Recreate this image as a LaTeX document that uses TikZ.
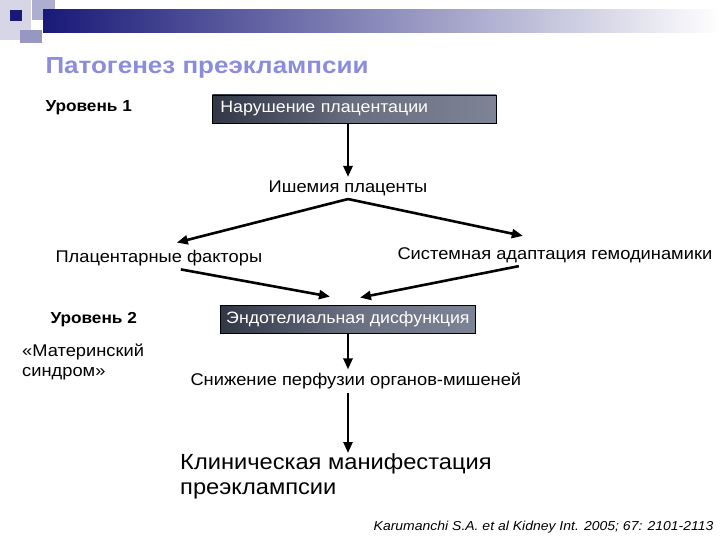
\documentclass[tikz,border=0pt]{standalone}
\usepackage{fontspec}
\setmainfont[FakeStretch=1.08]{Liberation Sans}
\newfontfamily\titlefont[FakeStretch=1.12]{Liberation Sans}
\usetikzlibrary{arrows.meta,calc}
\definecolor{navybar}{RGB}{25,25,120}
\definecolor{titlelav}{RGB}{140,140,222}
\definecolor{boxdark}{RGB}{50,55,70}
\definecolor{boxmid}{RGB}{105,110,128}
\definecolor{boxlight}{RGB}{125,132,150}

\tikzset{
  flowbox/.style={draw=black, line width=0.8bp, left color=boxdark, right color=boxlight,
    middle color=boxmid, text=white, font=\fontsize{16.5}{19}\selectfont,
    minimum height=28bp, anchor=west},
  plain/.style={font=\fontsize{17}{20}\selectfont},
  level/.style={font=\bfseries\fontsize{16}{19}\selectfont, anchor=west},
  flowarrow/.style={->, line width=2.6bp}
}

\begin{document}
\begin{tikzpicture}[x=1bp, y=-1bp, >={Triangle[length=11bp,width=9bp]}]
    \useasboundingbox[fill=white] (0,0) rectangle (720,540);
    % header decoration
    \fill[navybar!18] (0,0) rectangle (31,40);
    \fill[navybar!35] (32,0) rectangle (55,20);
    \shade[left color=navybar, right color=white] (43,10) rectangle (720,33);
    \fill[navybar!45] (20,30) rectangle (42,43);
    \fill[navybar] (10,10) rectangle (22,21);
    % title
    \node[anchor=west, text=titlelav, font=\titlefont\bfseries\fontsize{23.3}{28}\selectfont] (title) at (42,68) {Патогенез преэклампсии};

    \node[level] (lev1) at (42,108) {Уровень 1};
    \node[flowbox, inner xsep=8bp, text width=268bp, align=left] (box1) at (212,109) {Нарушение плацентации};
    \node[plain] (isch) at (348,188) {Ишемия плаценты};
    \node[plain, anchor=west] (plac) at (52,258) {Плацентарные факторы};
    \node[plain, anchor=west] (sysad) at (394,255) {Системная адаптация гемодинамики};

    \node[level] (lev2) at (47,320) {Уровень 2};
    \node[flowbox, inner xsep=4bp, minimum width=255bp] (box2) at (220,319) {Эндотелиальная дисфункция};
    \node[plain, anchor=north west, align=left, inner sep=0pt] (mat) at (22,344) {«Материнский\\синдром»};
    \node[plain, anchor=west] (perf) at (187,381) {Снижение перфузии органов-мишеней};
    \node[anchor=north west, align=left, inner sep=0pt, font=\fontsize{22}{26}\selectfont] (clin) at (180,453) {Клиническая манифестация\\преэклампсии};
    \node[anchor=east, font=\itshape\fontsize{13}{15}\selectfont] (cite) at (717,527) {Karumanchi S.A. et al Kidney Int. 2005; 67: 2101-2113};

    % arrows
    \draw[flowarrow] (box1.south -| isch.north) -- (isch.north);
    \draw[flowarrow] (isch.south) -- ($(plac.north)+(18,-4)$);
    \draw[flowarrow] (isch.south) -- ($(sysad.north)+(-32,-8)$);
    \draw[flowarrow] ($(plac.south)+(22,0)$) -- ($(box2.north west)+(110,-8)$);
    \draw[flowarrow] ($(sysad.south)+(-36,0)$) -- ($(box2.north west)+(140,-7)$);
    \draw[flowarrow] (box2.south -| isch.north) -- (perf.north -| isch.north);
    \draw[flowarrow] (perf.south -| isch.north) -- (clin.north -| isch.north);
\end{tikzpicture}
\end{document}
